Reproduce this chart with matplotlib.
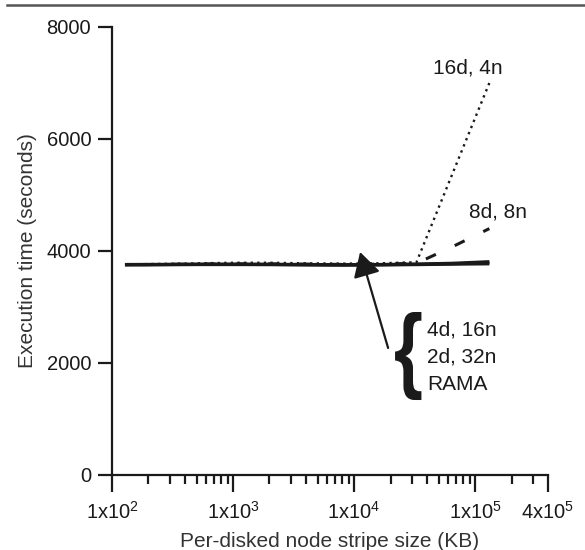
import matplotlib
matplotlib.use("Agg")
import matplotlib.pyplot as plt
from matplotlib.lines import Line2D
from matplotlib.textpath import TextPath
from matplotlib.font_manager import FontProperties
from matplotlib.patches import PathPatch
from matplotlib.transforms import Affine2D, IdentityTransform
import numpy as np

plt.rcParams['font.family'] = ['Liberation Sans', 'DejaVu Sans']
plt.rcParams['mathtext.fontset'] = 'custom'
plt.rcParams['mathtext.rm'] = 'Liberation Sans'
plt.rcParams['mathtext.it'] = 'Liberation Sans'

# Data
stripe_kb = [128, 256, 512, 1024, 2048, 4096, 8192, 16384, 32768, 65536, 131072]
d16_n4 = [3760, 3770, 3780, 3790, 3790, 3780, 3775, 3780, 3800, 5400, 7000]
d8_n8 = [3755, 3760, 3765, 3770, 3770, 3765, 3760, 3765, 3780, 4080, 4400]
d4_n16 = [3755, 3758, 3762, 3762, 3760, 3755, 3752, 3755, 3762, 3772, 3790]
d2_n32 = [3760, 3762, 3766, 3766, 3764, 3760, 3756, 3760, 3768, 3782, 3810]
rama = [3750, 3753, 3757, 3757, 3755, 3750, 3747, 3750, 3756, 3764, 3770]

xticks = [1e2, 1e3, 1e4, 1e5, 4e5]
xticklabels = ['1x10$^{2}$', '1x10$^{3}$', '1x10$^{4}$', '1x10$^{5}$', '4x10$^{5}$']
yticks = [0, 2000, 4000, 6000, 8000]

fig = plt.figure(figsize=(5.85, 5.5), dpi=100)
ax = fig.add_axes([112/585, 75/550, (548-112)/585, (475-27)/550])

ink = '#1a1a1a'
ax.plot(stripe_kb, d4_n16, color=ink, lw=2.2, solid_capstyle='butt')
ax.plot(stripe_kb, d2_n32, color=ink, lw=2.2, solid_capstyle='butt')
ax.plot(stripe_kb, rama, color=ink, lw=2.2, solid_capstyle='butt')
ax.plot(stripe_kb, d16_n4, color=ink, lw=1.7, linestyle=(0, (1, 1.8)))
ax.plot(stripe_kb, d8_n8, color=ink, lw=2.2, linestyle=(5.2, (3.6, 6.8)))

ax.set_xscale('log')
ax.set_xlim(1e2, 4e5)
ax.set_ylim(0, 8000)
ax.set_xticks(xticks)
ax.set_xticklabels(xticklabels)
ax.set_yticks(yticks)

for s in ['top', 'right']:
    ax.spines[s].set_visible(False)
for s in ['left', 'bottom']:
    ax.spines[s].set_linewidth(1.6)
    ax.spines[s].set_color(ink)

ax.tick_params(axis='x', which='major', direction='out', length=12, width=1.6, color=ink,
               labelsize=14.5, labelcolor=ink, pad=7)
ax.tick_params(axis='x', which='minor', direction='out', length=6.5, width=1.6, color=ink)
ax.tick_params(axis='y', which='major', direction='out', length=10, width=1.6, color=ink,
               labelsize=14.5, labelcolor=ink, pad=5)
ax.set_xlabel('Per-disked node stripe size (KB)', fontsize=15, color='#333333', labelpad=6)
ax.set_ylabel('Execution time (seconds)', fontsize=15, color='#333333', labelpad=7)

# Annotations
fs = 15
ax.text(4.5e4, 7268, '16d, 4n', fontsize=fs, color=ink, va='center', ha='left')
ax.text(8.9e4, 4696, '8d, 8n', fontsize=fs, color=ink, va='center', ha='left')
ax.text(4.0e4, 2589, '4d, 16n', fontsize=fs, color=ink, va='center', ha='left')
ax.text(4.0e4, 2107, '2d, 32n', fontsize=fs, color=ink, va='center', ha='left')
ax.text(4.0e4, 1625, 'RAMA', fontsize=fs, color=ink, va='center', ha='left')

ax.annotate('', xy=(1.121e4, 3982), xytext=(1.91e4, 2268),
            arrowprops=dict(arrowstyle='-|>,head_length=0.75,head_width=0.42', color=ink, lw=1.6,
                            shrinkA=0, shrinkB=0, mutation_scale=20))

# Brace "{" stretched into a box (data coords of box corners)
brace_x0, brace_x1 = 2.18e4, 3.6e4
brace_y0, brace_y1 = 1339, 2911
fig.canvas.draw()
(px0, py0) = ax.transData.transform((brace_x0, brace_y0))
(px1, py1) = ax.transData.transform((brace_x1, brace_y1))
tp = TextPath((0, 0), '{', size=100, prop=FontProperties(family='Liberation Sans', weight='bold'))
ext = tp.get_extents()
tr = (Affine2D().translate(-ext.x0, -ext.y0)
      .scale((px1 - px0) / ext.width, (py1 - py0) / ext.height)
      .translate(px0, py0))
brace = PathPatch(tr.transform_path(tp), facecolor=ink, edgecolor='none',
                  transform=IdentityTransform())
fig.add_artist(brace)

fig.add_artist(Line2D([7/585, 1.0], [545/550, 545/550], color='#555555', lw=1.8,
                      transform=fig.transFigure))

fig.savefig('out.png', dpi=100)
